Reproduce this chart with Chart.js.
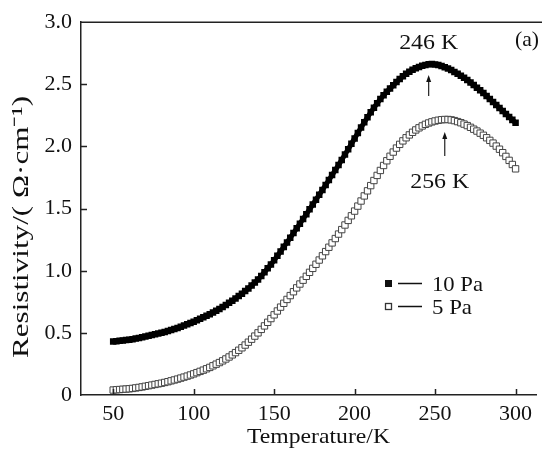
<!DOCTYPE html>
<html>
<head>
<meta charset="utf-8">
<script src="https://cdn.jsdelivr.net/npm/chart.js@4/dist/chart.umd.min.js"></script>
<style>
  html, body { margin: 0; padding: 0; background: #fff; }
  canvas { display: block; }
</style>
</head>
<body>
<canvas id="rho" width="542" height="450"></canvas>
<script>
// Temperature in K (x values)
const temperature = [
  50, 52, 54, 56, 58, 60, 62, 64, 66, 68, 70, 72, 74, 76, 78, 80, 82, 84, 86, 88,
  90, 92, 94, 96, 98, 100, 102, 104, 106, 108, 110, 112, 114, 116, 118, 120, 122,
  124, 126, 128, 130, 132, 134, 136, 138, 140, 142, 144, 146, 148, 150, 152, 154,
  156, 158, 160, 162, 164, 166, 168, 170, 172, 174, 176, 178, 180, 182, 184, 186,
  188, 190, 192, 194, 196, 198, 200, 202, 204, 206, 208, 210, 212, 214, 216, 218,
  220, 222, 224, 226, 228, 230, 232, 234, 236, 238, 240, 242, 244, 246, 248, 250,
  252, 254, 256, 258, 260, 262, 264, 266, 268, 270, 272, 274, 276, 278, 280, 282,
  284, 286, 288, 290, 292, 294, 296, 298, 300
];

// Resistivity, 10 Pa (filled squares)
const rho10Pa = [
  0.430, 0.433, 0.436, 0.439, 0.442, 0.445, 0.449, 0.454, 0.459, 0.464,
  0.470, 0.476, 0.482, 0.488, 0.494, 0.500, 0.507, 0.515, 0.523, 0.531,
  0.540, 0.549, 0.559, 0.569, 0.579, 0.590, 0.601, 0.613, 0.625, 0.637,
  0.650, 0.664, 0.678, 0.693, 0.709, 0.725, 0.742, 0.759, 0.777, 0.796,
  0.815, 0.836, 0.858, 0.881, 0.905, 0.930, 0.958, 0.988, 1.019, 1.051,
  1.085, 1.120, 1.155, 1.192, 1.228, 1.265, 1.303, 1.341, 1.379, 1.417,
  1.455, 1.494, 1.533, 1.572, 1.611, 1.650, 1.690, 1.730, 1.770, 1.810,
  1.850, 1.892, 1.935, 1.978, 2.021, 2.065, 2.109, 2.152, 2.194, 2.235,
  2.275, 2.312, 2.348, 2.381, 2.412, 2.440, 2.467, 2.493, 2.518, 2.542,
  2.565, 2.585, 2.602, 2.617, 2.630, 2.640, 2.649, 2.656, 2.661, 2.663,
  2.660, 2.655, 2.647, 2.638, 2.627, 2.615, 2.600, 2.585, 2.569, 2.552,
  2.535, 2.515, 2.494, 2.473, 2.452, 2.430, 2.406, 2.382, 2.358, 2.334,
  2.310, 2.286, 2.262, 2.238, 2.214, 2.190
];

// Resistivity, 5 Pa (open squares)
const rho5Pa = [
  0.040, 0.042, 0.044, 0.046, 0.048, 0.050, 0.053, 0.057, 0.061, 0.065,
  0.070, 0.075, 0.080, 0.085, 0.090, 0.095, 0.101, 0.107, 0.114, 0.121,
  0.128, 0.136, 0.144, 0.152, 0.161, 0.170, 0.180, 0.190, 0.200, 0.211,
  0.222, 0.235, 0.248, 0.261, 0.275, 0.290, 0.306, 0.323, 0.341, 0.360,
  0.380, 0.402, 0.425, 0.449, 0.474, 0.500, 0.528, 0.556, 0.585, 0.615,
  0.645, 0.676, 0.707, 0.738, 0.769, 0.800, 0.831, 0.862, 0.893, 0.924,
  0.955, 0.987, 1.019, 1.052, 1.086, 1.120, 1.154, 1.189, 1.224, 1.259,
  1.295, 1.331, 1.368, 1.405, 1.442, 1.480, 1.520, 1.561, 1.602, 1.643,
  1.685, 1.726, 1.767, 1.807, 1.847, 1.885, 1.921, 1.955, 1.987, 2.017,
  2.045, 2.070, 2.093, 2.114, 2.133, 2.150, 2.165, 2.178, 2.189, 2.198,
  2.205, 2.211, 2.215, 2.217, 2.217, 2.214, 2.208, 2.200, 2.191, 2.180,
  2.168, 2.154, 2.139, 2.124, 2.107, 2.090, 2.070, 2.049, 2.027, 2.003,
  1.978, 1.950, 1.920, 1.888, 1.855, 1.820
];

const xTicks = [50, 100, 150, 200, 250, 300];
const peakTemps = [246, 256];
const peakLabels = ['246 K', '256 K'];
const seriesLabels = ['10 Pa', '5 Pa'];

const serif = '"Liberation Serif", "Times New Roman", serif';

const toPoints = ys => temperature.map((t, i) => ({ x: t, y: ys[i] }));

// draw text stretched horizontally to a given width
function wideText(ctx, s, x, y, width) {
  const w = ctx.measureText(s).width;
  ctx.save();
  ctx.translate(x, y);
  ctx.scale(width / w, 1);
  ctx.fillText(s, 0, 0);
  ctx.restore();
}

const frame = {
  id: 'frame',
  afterDraw(chart) {
    const { ctx, chartArea: a, scales: { x, y } } = chart;
    ctx.save();
    ctx.strokeStyle = '#222';
    ctx.lineWidth = 1.5;
    ctx.beginPath();
    ctx.moveTo(a.left, a.top);
    ctx.lineTo(chart.width, a.top);
    // inward tick marks
    xTicks.forEach(v => {
      const px = Math.round(x.getPixelForValue(v)) + 0.5;
      ctx.moveTo(px, a.bottom);
      ctx.lineTo(px, a.bottom - 6);
    });
    for (let v = 0.5; v < 3; v += 0.5) {
      const py = Math.round(y.getPixelForValue(v)) + 0.5;
      ctx.moveTo(a.left, py);
      ctx.lineTo(a.left + 6, py);
    }
    ctx.stroke();

    ctx.fillStyle = '#111';
    ctx.font = '22px ' + serif;
    ctx.textAlign = 'center';
    ctx.textBaseline = 'middle';
    // axis titles
    wideText(ctx, 'Temperature/K', 318.5, 437, 143);
    ctx.save();
    ctx.translate(22, 227);
    ctx.rotate(-Math.PI / 2);
    ctx.font = '23px ' + serif;
    wideText(ctx, 'Resistivity/( \u03a9\u00b7cm\u207b\u00b9)', 0, 0, 262);
    ctx.restore();

    // peak markers
    ctx.lineWidth = 1.2;
    ctx.strokeStyle = '#222';
    const arrow = (px, top, bottom) => {
      ctx.beginPath();
      ctx.moveTo(px, bottom);
      ctx.lineTo(px, top + 4);
      ctx.stroke();
      ctx.beginPath();
      ctx.moveTo(px, top);
      ctx.lineTo(px - 2.5, top + 7);
      ctx.lineTo(px + 2.5, top + 7);
      ctx.closePath();
      ctx.fill();
    };
    const p0 = x.getPixelForValue(peakTemps[0]);
    arrow(p0, 75, 96);
    wideText(ctx, peakLabels[0], p0, 43, 59);
    const p1 = x.getPixelForValue(peakTemps[1]);
    arrow(p1, 132, 156);
    wideText(ctx, peakLabels[1], p1 - 5, 182, 59);
    wideText(ctx, '(a)', 527, 40, 24);

    // legend
    ctx.fillRect(385, 280, 7, 7);
    ctx.lineWidth = 1.3;
    ctx.strokeStyle = '#333';
    ctx.fillStyle = '#fff';
    ctx.fillRect(385.5, 303.5, 6, 6);
    ctx.strokeRect(385.5, 303.5, 6, 6);
    ctx.beginPath();
    ctx.moveTo(398, 283.5); ctx.lineTo(422, 283.5);
    ctx.moveTo(398, 306.5); ctx.lineTo(422, 306.5);
    ctx.strokeStyle = '#111';
    ctx.stroke();
    ctx.fillStyle = '#111';
    wideText(ctx, seriesLabels[0], 457.5, 285, 51);
    wideText(ctx, seriesLabels[1], 452, 308, 40);
    ctx.restore();
  }
};

new Chart(document.getElementById('rho'), {
  type: 'scatter',
  data: {
    datasets: [
      {
        label: seriesLabels[0],
        data: toPoints(rho10Pa),
        showLine: true,
        borderWidth: 5,
        borderColor: '#000',
        pointStyle: 'rect',
        pointRadius: 4.6,
        pointBorderWidth: 0,
        backgroundColor: '#000'
      },
      {
        label: seriesLabels[1],
        data: toPoints(rho5Pa),
        pointStyle: 'rect',
        pointRadius: 4.5,
        backgroundColor: '#fff',
        borderColor: '#444',
        borderWidth: 1
      }
    ]
  },
  options: {
    responsive: false,
    animation: false,
    layout: { padding: { top: 20, right: 0, left: 0, bottom: 0 } },
    plugins: { legend: { display: false }, tooltip: { enabled: false } },
    scales: {
      x: {
        type: 'linear',
        min: 30,
        max: 313,
        afterBuildTicks: s => { s.ticks = xTicks.map(v => ({ value: v })); },
        afterFit: s => { s.height = 55; },
        grid: { display: false, drawTicks: false },
        border: { display: true, color: '#222', width: 1.5 },
        ticks: { color: '#111', padding: 6, maxRotation: 0, font: { family: serif, size: 22 } }
      },
      y: {
        min: 0,
        max: 3,
        afterFit: s => { s.width = 81; },
        grid: { display: false, drawTicks: false },
        border: { display: true, color: '#222', width: 1.5 },
        ticks: {
          stepSize: 0.5,
          color: '#111',
          padding: 9,
          font: { family: serif, size: 22 },
          callback: v => (v === 0 ? '0' : v.toFixed(1))
        }
      }
    }
  },
  plugins: [frame]
});
</script>
</body>
</html>
